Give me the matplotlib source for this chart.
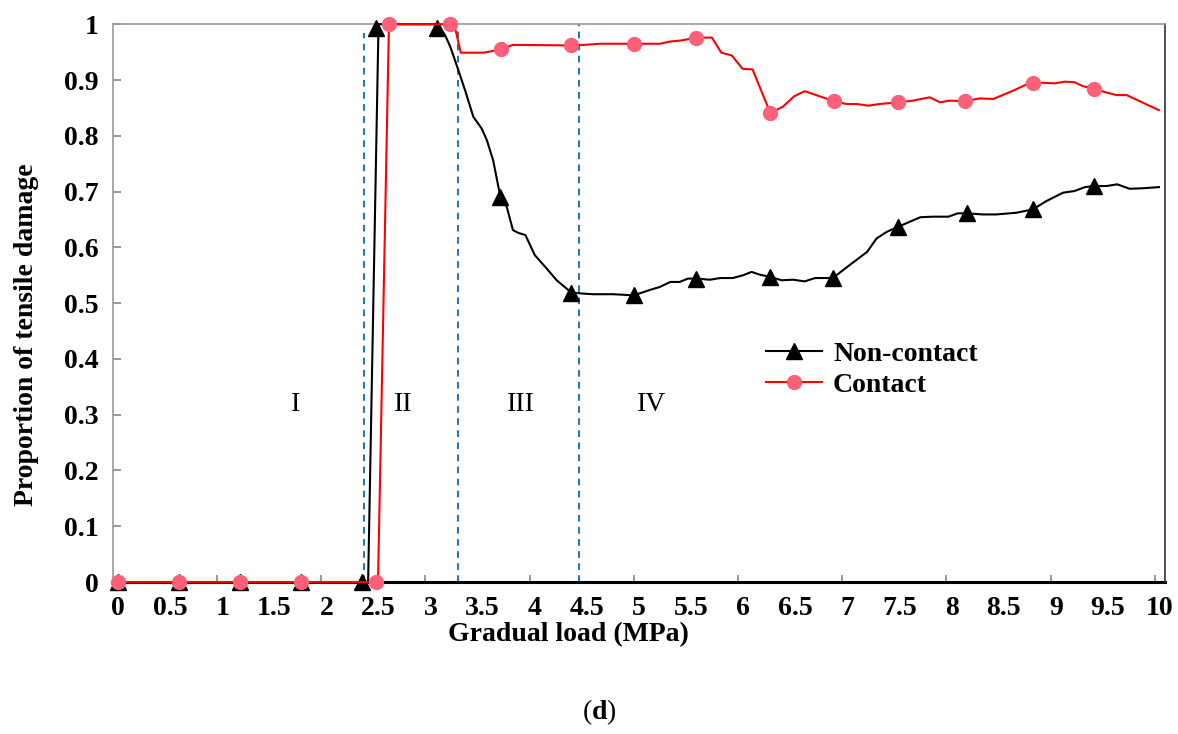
import numpy as np
import matplotlib
matplotlib.use("Agg")
import matplotlib.pyplot as plt

plt.rcParams['font.family'] = ['Liberation Serif', 'DejaVu Serif']
plt.rcParams['mathtext.fontset'] = 'custom'
plt.rcParams['mathtext.rm'] = 'Liberation Serif'
plt.rcParams['mathtext.bf'] = 'Liberation Serif:bold'

# ---- data ----
noncontact_x = [0, 2.40, 2.50, 3.06, 3.14, 3.19, 3.26, 3.33, 3.41, 3.49, 3.54, 3.60,
                3.67, 3.73, 3.79, 3.84, 3.91, 4.00, 4.10, 4.21, 4.35, 4.47, 4.56, 4.75,
                4.95, 5.11, 5.20, 5.30, 5.39, 5.47, 5.55, 5.68, 5.78, 5.90, 6.00, 6.08,
                6.16, 6.26, 6.37, 6.48, 6.59, 6.69, 6.86, 7.02, 7.19, 7.28, 7.38, 7.49,
                7.60, 7.70, 7.82, 7.97, 8.06, 8.15, 8.30, 8.43, 8.62, 8.78, 8.91, 9.07,
                9.18, 9.28, 9.37, 9.49, 9.59, 9.71, 9.84, 9.99]
noncontact_y = [0, 0, 1.0, 1.0, 0.980, 0.959, 0.921, 0.882, 0.834, 0.813, 0.792, 0.756,
                0.690, 0.673, 0.631, 0.626, 0.622, 0.586, 0.565, 0.541, 0.519, 0.517, 0.516, 0.516,
                0.514, 0.524, 0.529, 0.538, 0.538, 0.544, 0.544, 0.542, 0.545, 0.545, 0.550, 0.556,
                0.551, 0.547, 0.541, 0.542, 0.539, 0.545, 0.545, 0.568, 0.592, 0.616, 0.628, 0.637,
                0.646, 0.654, 0.655, 0.655, 0.661, 0.661, 0.659, 0.659, 0.662, 0.668, 0.683, 0.698,
                0.701, 0.708, 0.710, 0.710, 0.713, 0.705, 0.706, 0.708]
noncontact_mx = [0, 0.585, 1.17, 1.76, 2.34, 2.48, 3.06, 3.67, 4.35, 4.95, 5.55, 6.26,
                 6.86, 7.49, 8.15, 8.78, 9.37]
noncontact_my = [0, 0, 0, 0, 0, 0.993, 0.993, 0.690, 0.519, 0.514, 0.544, 0.547,
                 0.545, 0.637, 0.661, 0.668, 0.710]

contact_x = [0, 2.495, 2.60, 3.19, 3.24, 3.29, 3.51, 3.68, 3.79, 4.35, 4.47, 4.63,
             4.95, 5.20, 5.30, 5.41, 5.55, 5.70, 5.79, 5.89, 5.995, 6.09, 6.26, 6.38,
             6.49, 6.59, 6.70, 6.87, 6.99, 7.09, 7.20, 7.31, 7.49, 7.63, 7.79, 7.89,
             7.98, 8.13, 8.27, 8.40, 8.58, 8.72, 8.78, 8.88, 8.99, 9.09, 9.18, 9.26,
             9.37, 9.46, 9.58, 9.68, 9.99]
contact_y = [0, 0, 1.0, 1.0, 0.989, 0.949, 0.949, 0.955, 0.963, 0.962, 0.963, 0.965,
             0.965, 0.965, 0.969, 0.971, 0.976, 0.976, 0.949, 0.944, 0.920, 0.919, 0.841, 0.852,
             0.871, 0.880, 0.873, 0.862, 0.857, 0.857, 0.854, 0.857, 0.860, 0.863, 0.869, 0.860,
             0.863, 0.862, 0.867, 0.866, 0.880, 0.892, 0.894, 0.895, 0.894, 0.897, 0.896, 0.889,
             0.884, 0.879, 0.873, 0.873, 0.846]
contact_mx = [0, 0.585, 1.17, 1.76, 2.48, 2.60, 3.19, 3.68, 4.35, 4.95, 5.55, 6.26,
              6.87, 7.49, 8.13, 8.78, 9.37]
contact_my = [0, 0, 0, 0, 0, 1.0, 1.0, 0.955, 0.962, 0.965, 0.976, 0.841,
              0.862, 0.860, 0.862, 0.894, 0.884]

stage_bounds = [2.36, 3.26, 4.42]
stage_tops = [0.985, 0.988, 1.0]
stage_labels = ["I", "II", "III", "IV"]
stage_label_x = [1.70, 2.74, 3.87, 5.12]
stage_label_y = 0.319

x_tick_values = np.arange(0, 10.01, 0.5)
x_tick_labels = ["%g" % v for v in x_tick_values]
y_tick_values = np.round(np.arange(0, 1.01, 0.1), 1)
y_tick_labels = ["%g" % v for v in y_tick_values]

# ---- figure ----
fig = plt.figure(figsize=(11.78, 7.34), dpi=100)
ax = fig.add_axes([0.0958, 0.207, 0.8933, 0.760])
ax.set_xlim(-0.05, 10.05)
ax.set_ylim(0, 1)

for xb, top in zip(stage_bounds, stage_tops):
    ax.plot([xb, xb], [0, top], color='#2E75B6', lw=1.5, ls=(0, (3.2, 2.6)), zorder=1)

nc_col = 'black'
c_line = '#FF0000'
c_mark = '#FF6079'
ax.plot(noncontact_x, noncontact_y, color=nc_col, lw=1.5, zorder=3, clip_on=False)
ax.plot(noncontact_mx, noncontact_my, ls='none', marker='^', ms=11, color=nc_col,
        zorder=4, clip_on=False)
ax.plot(contact_x, contact_y, color=c_line, lw=1.5, zorder=5, clip_on=False)
ax.plot(contact_mx, contact_my, ls='none', marker='o', ms=10, color=c_mark,
        zorder=6, clip_on=False)

# legend proxies
h1, = ax.plot([], [], color=nc_col, lw=1.5, marker='^', ms=11)
h2, = ax.plot([], [], color=c_line, lw=1.5, marker='o', ms=10, mfc=c_mark, mec=c_mark)
leg = ax.legend([h1, h2], ["Non-contact", "Contact"], loc='upper left',
                bbox_to_anchor=(0.621, 0.432), frameon=False, borderpad=0,
                borderaxespad=0, handlelength=2.0, handletextpad=0.4,
                labelspacing=0.22, prop={'family': 'Liberation Serif', 'weight': 'bold', 'size': 20})

for lab, lx in zip(stage_labels, stage_label_x):
    ax.text(lx, stage_label_y, lab, ha='center', va='center', fontsize=20,
            family='Liberation Serif')

# ticks
ax.set_xticks(x_tick_values)
ax.set_xticklabels(x_tick_labels, fontsize=20, fontweight='bold')
ax.set_xticks(np.arange(0.95, 10.0, 1.0), minor=True)
ax.tick_params(axis='x', which='major', length=0, pad=10)
ax.tick_params(axis='x', which='minor', direction='in', length=5, width=1.2, color='#888888')
ax.set_yticks(y_tick_values)
ax.set_yticklabels(y_tick_labels, fontsize=20, fontweight='bold')
ax.tick_params(axis='y', direction='in', length=6, width=1.2, color='#888888', pad=10)

for s in ['left', 'top']:
    ax.spines[s].set_color('#999999')
    ax.spines[s].set_linewidth(1.2)
ax.spines['right'].set_color('#333333')
ax.spines['right'].set_linewidth(1.2)
ax.spines['bottom'].set_color('black')
ax.spines['bottom'].set_linewidth(2.2)
ax.spines['bottom'].set_zorder(2)

ax.set_xlabel("Gradual load (MPa)", fontsize=20, fontweight='bold')
ax.xaxis.set_label_coords(568 / 1178, (734 - 622) / 734, transform=fig.transFigure)
ax.set_ylabel("Proportion of tensile damage", fontsize=20, fontweight='bold')
ax.yaxis.set_label_coords(39 / 1178, (734 - 335) / 734, transform=fig.transFigure)

fig.text(599 / 1178, 0.030, r"($\mathbf{d}$)", ha='center', va='center', fontsize=20)

fig.savefig("out.png", dpi=100)
